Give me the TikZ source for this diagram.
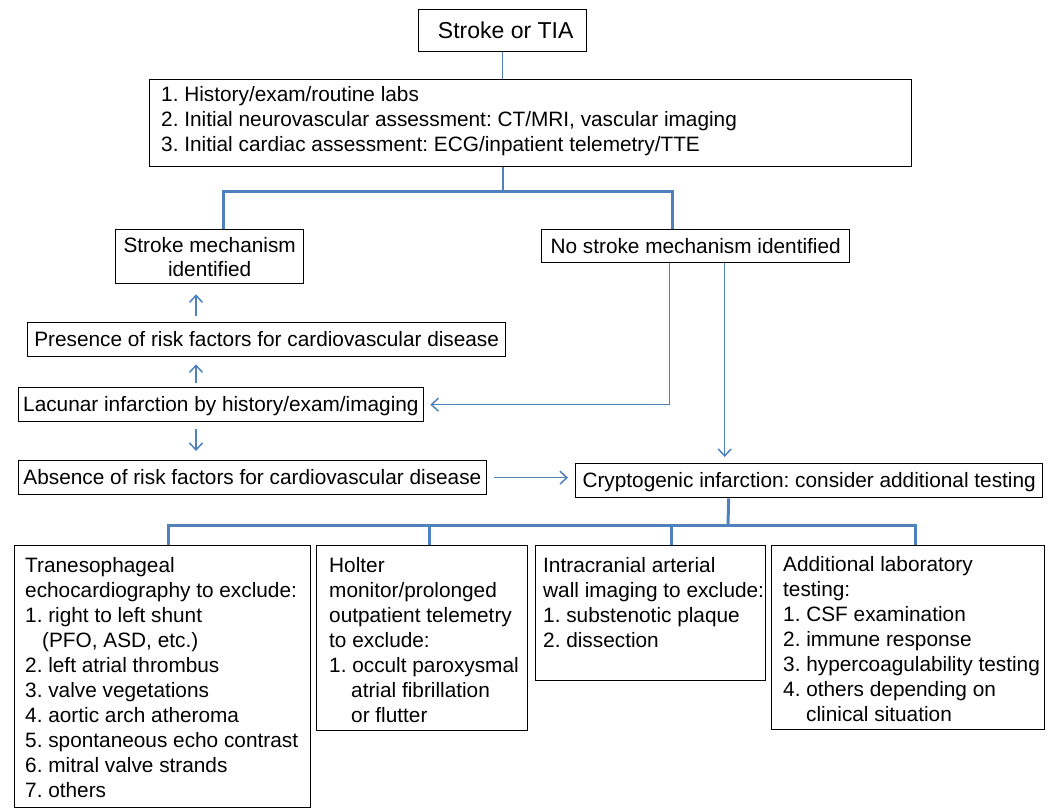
\documentclass[tikz,border=0pt]{standalone}
\usepackage{fontspec}
\setmainfont{Liberation Sans}
\usetikzlibrary{arrows.meta,calc}
\definecolor{lineblue}{RGB}{79,129,189}
\frenchspacing
\begin{document}
\begin{tikzpicture}[x=1pt,y=-1pt,
  box/.style={draw=black,line width=1.3pt,anchor=north west,inner sep=0pt},
  one/.style={box,font=\fontsize{20.8}{25}\selectfont,text height=14pt,text depth=0pt},
  txt/.style={anchor=north west,inner sep=0pt,align=left,font=\fontsize{20.8}{25}\selectfont},
  thinline/.style={draw=lineblue,line width=1.5pt},
  thickline/.style={draw=lineblue,line width=3pt},
  arr/.style={thinline,-{Straight Barb[length=7pt,width=13pt]}}]
\useasboundingbox (0,0) rectangle (1049,809);

% boxes
\node[one,font=\fontsize{23}{27}\selectfont,text height=15.5pt,minimum width=168pt,minimum height=42pt] (stroke) at (418,9) {\hspace*{6pt}Stroke or TIA};
\node[box,minimum width=762pt,minimum height=87pt] (init) at (149,79) {};
\node[txt] (initT) at (161,86) {1. History/exam/routine labs\\2. Initial neurovascular assessment: CT/MRI, vascular imaging\\3. Initial cardiac assessment: ECG/inpatient telemetry/TTE};
\node[box,align=center,font=\fontsize{20.8}{24}\selectfont,minimum width=188pt,minimum height=54pt] (mech) at (115,229) {Stroke mechanism\\identified};
\node[one,minimum width=308pt,minimum height=33pt] (nomech) at (541,229) {No stroke mechanism identified};
\node[one,minimum width=478pt,minimum height=34pt] (pres) at (27,322) {Presence of risk factors for cardiovascular disease};
\node[one,minimum width=405.5pt,minimum height=34pt] (lac) at (17.5,387) {Lacunar infarction by history/exam/imaging};
\node[one,minimum width=468.5pt,minimum height=34pt] (abs) at (17.5,460) {Absence of risk factors for cardiovascular disease};
\node[one,minimum width=467pt,minimum height=34pt] (cry) at (575,463) {Cryptogenic infarction: consider additional testing};

\node[box,minimum width=296pt,minimum height=262pt] (ta) at (14,545) {};
\node[txt] (taT) at (25,557) {Tranesophageal\\echocardiography to exclude:\\1. right to left shunt\\\hspace*{17pt}(PFO, ASD, etc.)\\2. left atrial thrombus\\3. valve vegetations\\4. aortic arch atheroma\\5. spontaneous echo contrast\\6. mitral valve strands\\7. others};
\node[box,minimum width=211pt,minimum height=185pt] (tb) at (316,545) {};
\node[txt] (tbT) at (329,557) {Holter\\monitor/prolonged\\outpatient telemetry\\to exclude:\\1. occult paroxysmal\\\hspace*{22pt}atrial fibrillation\\\hspace*{22pt}or flutter};
\node[box,minimum width=230pt,minimum height=135pt] (tc) at (535,545) {};
\node[txt] (tcT) at (543,557) {Intracranial arterial\\wall imaging to exclude:\\1. substenotic plaque\\2. dissection};
\node[box,minimum width=273pt,minimum height=184pt] (td) at (771,545) {};
\node[txt] (tdT) at (783,556) {Additional laboratory\\testing:\\1. CSF examination\\2. immune response\\3. hypercoagulability testing\\4. others depending on\\\hspace*{23pt}clinical situation};

% connectors top
\draw[thinline] (stroke.south) -- (stroke.south |- init.north);
\coordinate (j1) at (503,191);
\draw[thinline] (init.south -| j1) -- (j1);
\coordinate (mechtop) at ([xshift=14pt]mech.north);
\coordinate (nomtop) at ([xshift=-23pt]nomech.north);
\draw[thickline] (mechtop) |- (j1) -| (nomtop);

% left column arrows
\coordinate (xc) at (196,0);
\draw[arr,shorten <=6pt,shorten >=10pt] (pres.north -| xc) -- (mech.south -| xc);
\draw[arr,shorten <=4pt,shorten >=7pt] (lac.north -| xc) -- (pres.south -| xc);
\draw[arr,shorten <=7pt,shorten >=9pt] (lac.south -| xc) -- (abs.north -| xc);

% from no stroke mechanism
\coordinate (noma) at ([xshift=-26pt]nomech.south);
\coordinate (nomb) at ([xshift=29pt]nomech.south);
\draw[arr,shorten >=6pt] (noma) |- (lac.east);
\draw[arr,shorten >=6pt] (nomb) -- (nomb |- cry.north);
\draw[arr,shorten <=7pt,shorten >=7pt] (abs.east) -- (abs.east -| cry.west);

% bottom tree
\coordinate (crb) at ([xshift=-80.5pt]cry.south);
\coordinate (j2) at (728,525);
\draw[thickline] (crb) -- (j2);
\coordinate (tat) at ([xshift=6pt]ta.north);
\coordinate (tbt) at ([xshift=7.5pt]tb.north);
\coordinate (tct) at ([xshift=21pt]tc.north);
\coordinate (tdt) at ([xshift=7.5pt]td.north);
\draw[thickline] (tat) |- (j2) -| (tdt);
\draw[thickline] (tbt) -- (tbt |- j2);
\draw[thickline] (tct) -- (tct |- j2);
\end{tikzpicture}
\end{document}
